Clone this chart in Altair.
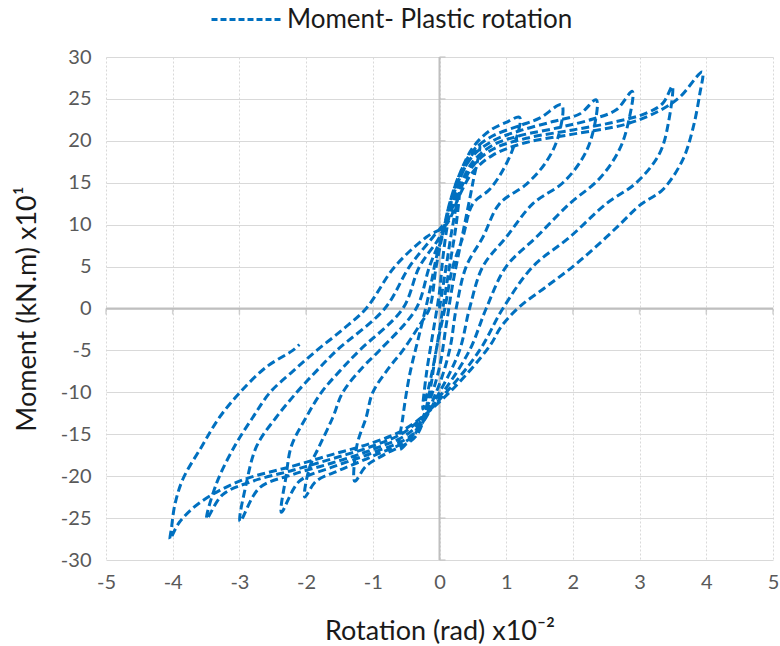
import altair as alt
import pandas as pd

# ---- data: hysteresis path, cycle by cycle (rotation x1e-2 rad, moment x10 kN.m) ----
c1_x = [0.0, 0.1, 0.2, 0.3, 0.25, 0.15, 0.05, -0.05, -0.15, -0.25, -0.2, -0.1, 0.0, 0.05]
c1_y = [0, 5, 10, 14, 10, 5, 0, -5, -9, -12, -8, -3, 2, 6]

c2_x = [0.12, 0.22, 0.38, 0.6, 0.5, 0.35, 0.2, 0.1, 0.0, -0.15, -0.35, -0.6,
        -0.55, -0.45, -0.3, -0.15, -0.05, 0.05]
c2_y = [10, 13.5, 16.8, 19.5, 15, 9, 3, -2, -7, -11, -14.5, -16.8,
        -13, -8, -3, 2, 6, 9]

c3_x = [0.15, 0.3, 0.5, 0.75, 1.0, 1.2,
        1.12, 0.95, 0.75, 0.5, 0.35, 0.2, 0.08, -0.05, -0.15, -0.35,
        -0.8, -1.1, -1.27,
        -1.24, -1.1, -1.0, -0.75, -0.55, -0.3, -0.15, -0.05, 0.05]
c3_y = [12.5, 16, 19.2, 21.2, 22.2, 22.8,
        19.5, 16.5, 14.2, 12.5, 8.5, 5, 0, -5, -10, -15.2,
        -17.3, -18.8, -20.6,
        -16.4, -13, -10, -7, -5, -2, 0, 5, 9]

c4_x = [0.15, 0.3, 0.5, 0.8, 1.2, 1.5, 1.83,
        1.78, 1.6, 1.3, 0.9, 0.65, 0.4, 0.25, 0.15, -0.05, -0.4,
        -1.0, -1.5, -1.85, -2.02,
        -1.95, -1.8, -1.6, -1.45, -1.15, -0.9, -0.35, -0.15, 0.05]
c4_y = [12.5, 16, 18.8, 20.6, 21.8, 22.7, 24.3,
        20.5, 17.5, 14.8, 12.5, 8.5, 5, 0, -5, -10, -15.2,
        -17.6, -19.3, -20.6, -22.5,
        -19, -16.4, -13, -10, -7, -5, 0, 5, 9]

c5_x = [0.15, 0.3, 0.5, 0.8, 1.2, 1.7, 2.1, 2.35,
        2.3, 2.15, 1.85, 1.4, 1.0, 0.65, 0.45, 0.3, 0.0, -0.4,
        -1.0, -1.6, -2.1, -2.37,
        -2.3, -2.22, -2.0, -1.77, -1.5, -1.2, -0.55, -0.3, 0.0]
c5_y = [12, 15.5, 18.2, 20, 21.2, 22.3, 23.2, 24.9,
        21, 18, 15, 12.5, 8.5, 5, 0, -5, -10, -15,
        -17.2, -18.9, -20.6, -24.3,
        -20, -16.4, -13, -10, -7.5, -5, 0, 5, 8.5]

c6_x = [0.15, 0.3, 0.5, 0.8, 1.2, 1.8, 2.3, 2.65, 2.89,
        2.84, 2.7, 2.4, 1.95, 1.45, 1.0, 0.7, 0.45, 0.05, -0.45,
        -1.0, -1.6, -2.2, -2.7, -2.99,
        -2.9, -2.74, -2.45, -2.14, -1.85, -1.54, -0.82, -0.45, -0.1]
c6_y = [11.5, 14.5, 17.5, 19.5, 20.6, 21.6, 22.6, 23.7, 25.9,
        22.5, 19, 15.5, 12.5, 8.5, 5, 0, -5, -10, -14.8,
        -16.8, -18.4, -19.8, -21.4, -25.4,
        -21, -16.4, -13, -10, -7.5, -5, 0, 5, 8.5]

c7_x = [0.1, 0.3, 0.5, 0.8, 1.3, 2.0, 2.6, 3.1, 3.35, 3.49,
        3.44, 3.3, 2.95, 2.5, 1.95, 1.4, 0.95, 0.6, 0.1, -0.5,
        -1.0, -1.6, -2.2, -2.8, -3.25, -3.49,
        -3.35, -3.07, -2.8, -2.54, -2.2, -1.84, -1.45, -1.1, -0.67, -0.2]
c7_y = [10.5, 14, 17, 19, 20.3, 21.3, 22.2, 23.3, 24.5, 26.5,
        22.5, 18.5, 15, 12.5, 8.5, 5, 0, -5, -10, -14.6,
        -16.4, -17.9, -19.3, -20.6, -22.2, -25.1,
        -21, -16.4, -13, -10, -7.5, -5, -2.5, 0, 5, 8.5]

c8_x = [0.1, 0.3, 0.5, 0.8, 1.3, 2.0, 2.8, 3.3, 3.6, 3.94,
        3.9, 3.8, 3.65, 3.35, 3.0, 2.7, 2.35, 2.0, 1.6, 1.2, 0.93, 0.75, 0.15, -0.5,
        -1.0, -1.6, -2.2, -3.0, -3.6, -3.9, -4.04,
        -4.02, -3.97, -3.85, -3.56, -3.3, -2.99, -2.6, -2.2, -2.1]
c8_y = [10, 13.5, 16.3, 18.3, 19.8, 20.8, 22.0, 23.6, 25.2, 28.2,
        25.5, 21.5, 17.8, 14.2, 12.3, 10, 7.4, 5, 2.6, 0.2, -2.1, -4.5, -10, -14.3,
        -16.0, -17.4, -18.8, -20.6, -23.2, -25.5, -27.5,
        -26.3, -23.5, -20.4, -16.4, -13, -10, -7, -5, -4.3]

series_name = "Moment- Plastic rotation"
x_ticks = [-5, -4, -3, -2, -1, 0, 1, 2, 3, 4, 5]
y_ticks = [-30, -25, -20, -15, -10, -5, 0, 5, 10, 15, 20, 25, 30]

xs = c1_x + c2_x + c3_x + c4_x + c5_x + c6_x + c7_x + c8_x
ys = c1_y + c2_y + c3_y + c4_y + c5_y + c6_y + c7_y + c8_y
df = pd.DataFrame({"x": xs, "y": ys, "i": list(range(len(xs))), "series": series_name})

FONT = "Lato"
BLUE = "#0070C0"

xscale = alt.Scale(domain=[-5, 5], nice=False, zero=False)
yscale = alt.Scale(domain=[-30, 30], nice=False, zero=False)

x_axis = alt.Axis(values=x_ticks, title="Rotation (rad) x10\u207b\u00b2", grid=True,
                  gridDash=[2, 2], gridColor="#d9d9d9", domain=False, ticks=False,
                  labelExpr="'' + datum.value",
                  labelFontSize=20, labelColor="#595959", labelFont=FONT, labelPadding=12,
                  titleFontSize=27, titleFont=FONT, titleFontWeight="normal", titleColor="#1a1a1a",
                  titleY=71, titleBaseline="middle", labelFlush=False)
y_axis = alt.Axis(values=y_ticks, title="Moment (kN.m) x10\u00b9", grid=True,
                  gridColor="#d9d9d9", domain=False, ticks=False,
                  labelExpr="'' + datum.value",
                  labelFontSize=20, labelColor="#595959", labelFont=FONT, labelPadding=15,
                  titleFontSize=27, titleFont=FONT, titleFontWeight="normal", titleColor="#1a1a1a",
                  titleX=-79, titleBaseline="middle", labelFlush=False)

zero_df = pd.DataFrame({"v": [0]})
vzero = alt.Chart(zero_df).mark_rule(color="#bfbfbf", strokeWidth=2).encode(
    x=alt.X("v:Q", scale=xscale, axis=x_axis))
hzero = alt.Chart(zero_df).mark_rule(color="#bfbfbf", strokeWidth=2).encode(
    y=alt.Y("v:Q", scale=yscale, axis=y_axis))

xt_df = pd.DataFrame({"t": x_ticks, "z": [0] * len(x_ticks)})
yt_df = pd.DataFrame({"t": y_ticks, "z": [0] * len(y_ticks)})
xticks = alt.Chart(xt_df).mark_tick(orient="vertical", size=6, yOffset=3, color="#bfbfbf",
                                    thickness=1.5).encode(
    x=alt.X("t:Q", scale=xscale), y=alt.Y("z:Q", scale=yscale))
yticks = alt.Chart(yt_df).mark_tick(orient="horizontal", size=6, xOffset=3, color="#bfbfbf",
                                    thickness=1.5).encode(
    y=alt.Y("t:Q", scale=yscale), x=alt.X("z:Q", scale=xscale))

line = alt.Chart(df).mark_line(strokeDash=[8, 4], strokeWidth=3, interpolate="catmull-rom").encode(
    x=alt.X("x:Q", scale=xscale),
    y=alt.Y("y:Q", scale=yscale),
    order=alt.Order("i:Q"),
    color=alt.Color("series:N", scale=alt.Scale(range=[BLUE]),
                    legend=alt.Legend(title=None, orient="none", legendX=104, legendY=-74,
                                      symbolType="stroke", symbolStrokeWidth=3,
                                      symbolDash=[6, 3], symbolSize=4900,
                                      labelFontSize=26, labelFont=FONT, labelColor="#1a1a1a",
                                      labelOffset=4, labelLimit=0, padding=0)),
)

chart = alt.layer(vzero, hzero, xticks, yticks, line).properties(
    width=667, height=503,
    autosize=alt.AutoSizeParams(type="none"),
    padding={"left": 106, "top": 57, "right": 7, "bottom": 86},
).configure_view(stroke=None)

chart.save("out.html", embed_options={"renderer": "svg", "actions": False})
